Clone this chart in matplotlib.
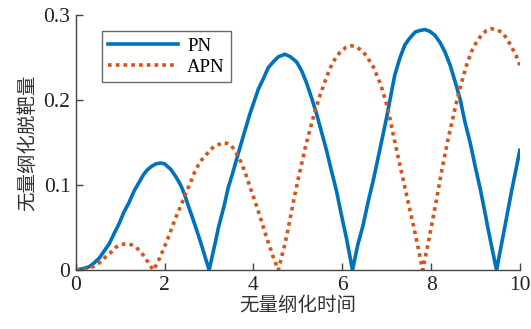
import matplotlib
matplotlib.use("Agg")
import matplotlib.pyplot as plt

# values (dimensionless time, miss distance)
t_pn = [0, 0.18, 0.30, 0.40, 0.525, 0.63, 0.75, 0.86, 0.976, 1.08, 1.20, 1.31, 1.43,
        1.53, 1.61, 1.70, 1.80, 1.91, 2.00, 2.06, 2.13, 2.25, 2.36, 2.44, 2.55, 2.63,
        2.72, 2.82, 3.00, 3.15, 3.21, 3.34, 3.43, 3.53, 3.655, 3.80, 3.92, 4.11, 4.22,
        4.33, 4.444, 4.56, 4.71, 4.83, 4.97, 5.08, 5.19, 5.30, 5.42, 5.53, 5.645, 5.75,
        5.87, 5.98, 6.10, 6.23, 6.35, 6.47, 6.58, 6.70, 6.81, 6.92, 7.00, 7.11, 7.185,
        7.30, 7.41, 7.52, 7.64, 7.75, 7.86, 7.97, 8.09, 8.20, 8.31, 8.43, 8.54, 8.66,
        8.76, 8.88, 8.99, 9.11, 9.21, 9.29, 9.36, 9.475, 9.625, 9.81, 10.0]
pn = [0, 0.002, 0.004, 0.008, 0.014, 0.022, 0.031, 0.043, 0.055, 0.068, 0.080, 0.093,
      0.104, 0.113, 0.118, 0.122, 0.125, 0.126, 0.125, 0.122, 0.119, 0.110, 0.100,
      0.090, 0.073, 0.061, 0.047, 0.031, 0.000, 0.035, 0.050, 0.076, 0.097, 0.114,
      0.137, 0.163, 0.184, 0.213, 0.225, 0.238, 0.245, 0.251, 0.254, 0.251, 0.245,
      0.235, 0.221, 0.204, 0.184, 0.163, 0.141, 0.118, 0.093, 0.065, 0.036, 0.000,
      0.030, 0.053, 0.080, 0.106, 0.133, 0.160, 0.180, 0.210, 0.230, 0.250, 0.265,
      0.273, 0.280, 0.282, 0.283, 0.281, 0.276, 0.268, 0.257, 0.241, 0.222, 0.200,
      0.175, 0.150, 0.123, 0.095, 0.069, 0.047, 0.029, 0.000, 0.041, 0.092, 0.141]

t_apn = [0, 0.18, 0.30, 0.45, 0.57, 0.676, 0.79, 0.90, 1.01, 1.126, 1.24, 1.35, 1.45,
         1.54, 1.64, 1.74, 1.83, 1.91, 2.00, 2.10, 2.19, 2.29, 2.39, 2.48, 2.58, 2.67,
         2.76, 2.85, 2.97, 3.08, 3.19, 3.30, 3.41, 3.51, 3.62, 3.73, 3.83, 3.92, 4.02,
         4.11, 4.20, 4.29, 4.37, 4.44, 4.56, 4.63, 4.71, 4.80, 4.89, 4.98, 5.08, 5.17,
         5.27, 5.38, 5.495, 5.61, 5.72, 5.83, 5.945, 6.08, 6.21, 6.34, 6.47, 6.58, 6.70,
         6.79, 6.88, 6.96, 7.03, 7.15, 7.30, 7.45, 7.60, 7.71, 7.81, 7.94, 8.09, 8.24,
         8.39, 8.54, 8.63, 8.72, 8.81, 8.91, 9.02, 9.14, 9.25, 9.36, 9.47, 9.59, 9.70,
         9.81, 9.91, 10.0]
apn = [0, 0.001, 0.002, 0.006, 0.010, 0.016, 0.021, 0.027, 0.030, 0.031, 0.030, 0.027,
       0.022, 0.016, 0.008, 0.000, 0.008, 0.017, 0.028, 0.041, 0.054, 0.067, 0.079,
       0.091, 0.103, 0.115, 0.124, 0.131, 0.138, 0.144, 0.147, 0.150, 0.149, 0.146,
       0.137, 0.126, 0.112, 0.098, 0.083, 0.069, 0.054, 0.039, 0.027, 0.016, 0.000,
       0.015, 0.031, 0.054, 0.078, 0.101, 0.124, 0.145, 0.165, 0.186, 0.205, 0.222,
       0.237, 0.248, 0.256, 0.262, 0.264, 0.262, 0.257, 0.249, 0.239, 0.228, 0.216,
       0.202, 0.189, 0.159, 0.123, 0.088, 0.053, 0.026, 0.000, 0.033, 0.074, 0.117,
       0.156, 0.190, 0.210, 0.227, 0.243, 0.257, 0.268, 0.277, 0.282, 0.284, 0.283,
       0.280, 0.273, 0.263, 0.253, 0.241]

x_ticks = [0, 2, 4, 6, 8, 10]
y_ticks = [0, 0.1, 0.2, 0.3]
y_tick_labels = ["0", "0.1", "0.2", "0.3"]

cjk = ["Noto Sans CJK SC", "DejaVu Sans"]
serif = "Liberation Serif"

fig = plt.figure(figsize=(5.31, 3.29), dpi=100)
ax = fig.add_axes([0.143, 0.179, 0.836, 0.775])

ax.plot(t_pn, pn, color="#0072BD", lw=2.6, label="PN")
ax.plot(t_apn, apn, color="#D95319", lw=2.6, dashes=(1, 1.15), dash_capstyle="butt",
        label="APN")

ax.set_xlim(0, 10)
ax.set_ylim(0, 0.3)
ax.set_xticks(x_ticks)
ax.set_xticklabels([str(v) for v in x_ticks])
ax.set_yticks(y_ticks)
ax.set_yticklabels(y_tick_labels)

for s in ["top", "right"]:
    ax.spines[s].set_visible(False)
for s in ["left", "bottom"]:
    ax.spines[s].set_color("#444444")
    ax.spines[s].set_linewidth(1.0)

ax.tick_params(direction="in", length=5, width=1.0, color="#444444", labelsize=15.5,
               pad=4)
for lab in ax.get_xticklabels() + ax.get_yticklabels():
    lab.set_fontfamily(serif)
    lab.set_color("#222222")

ax.set_xlabel("无量纲化时间", family=cjk, fontsize=14, color="#333333", labelpad=0)
ax.set_ylabel("无量纲化脱靶量", family=cjk, fontsize=14, color="#333333", labelpad=4)

leg = ax.legend(loc="upper left", bbox_to_anchor=(0.058, 0.938), borderaxespad=0,
                frameon=True, fancybox=False, handlelength=3.7, handletextpad=0.5,
                borderpad=0.35, labelspacing=0.2, prop={"family": serif, "size": 13.5})
leg.get_frame().set_edgecolor("#444444")
leg.get_frame().set_linewidth(1.0)

fig.savefig("out.png", dpi=100)
